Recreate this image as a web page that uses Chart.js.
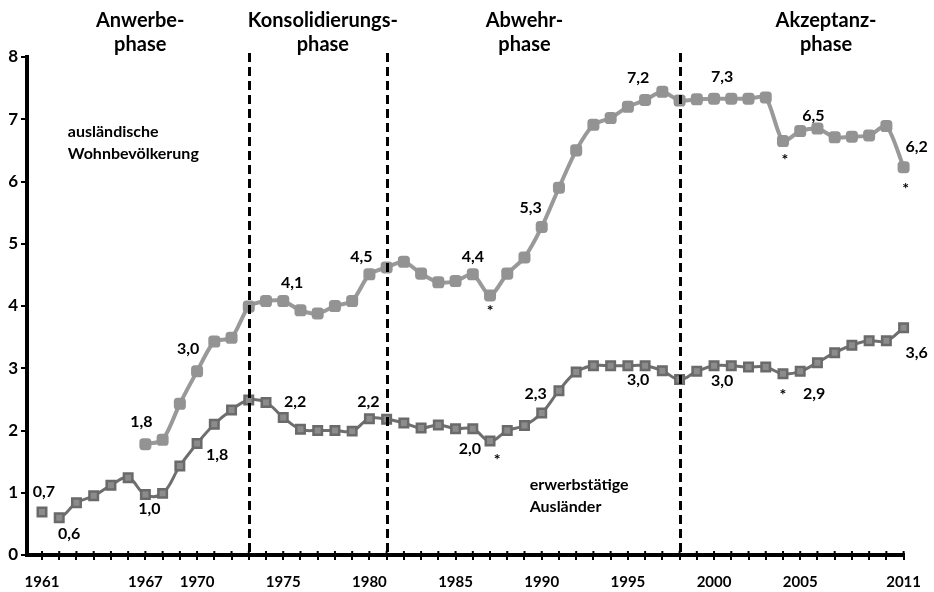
<!DOCTYPE html>
<html>
<head>
<meta charset="utf-8">
<script src="https://cdn.jsdelivr.net/npm/chart.js@4.4.1/dist/chart.umd.min.js"></script>
<style>
    html, body { margin: 0; padding: 0; background: #fff; }
    #wrap { width: 934px; height: 592px; }
</style>
</head>
<body>
<div id="wrap"><canvas id="chart"></canvas></div>
<script>
// Jahre und Werte (Mio.)
const wohnYears = [1967, 1968, 1969, 1970, 1971, 1972, 1973, 1974, 1975, 1976, 1977, 1978, 1979, 1980,
    1981, 1982, 1983, 1984, 1985, 1986, 1987, 1988, 1989, 1990, 1991, 1992, 1993, 1994, 1995, 1996,
    1997, 1998, 1999, 2000, 2001, 2002, 2003, 2004, 2005, 2006, 2007, 2008, 2009, 2010, 2011];
const wohnValues = [1.78, 1.85, 2.43, 2.95, 3.43, 3.49, 3.99, 4.08, 4.08, 3.93, 3.88, 4.00, 4.08, 4.51,
    4.62, 4.71, 4.52, 4.38, 4.40, 4.51, 4.17, 4.52, 4.78, 5.27, 5.90, 6.50, 6.91, 7.02, 7.20, 7.31,
    7.44, 7.30, 7.32, 7.33, 7.33, 7.33, 7.35, 6.65, 6.81, 6.85, 6.71, 6.72, 6.74, 6.89, 6.23];

const erwerbYears = [1961, 1962, 1963, 1964, 1965, 1966, 1967, 1968, 1969, 1970, 1971, 1972, 1973, 1974,
    1975, 1976, 1977, 1978, 1979, 1980, 1981, 1982, 1983, 1984, 1985, 1986, 1987, 1988, 1989, 1990,
    1991, 1992, 1993, 1994, 1995, 1996, 1997, 1998, 1999, 2000, 2001, 2002, 2003, 2004, 2005, 2006,
    2007, 2008, 2009, 2010, 2011];
const erwerbValues = [0.69, 0.60, 0.84, 0.95, 1.12, 1.24, 0.97, 0.99, 1.43, 1.79, 2.10, 2.33, 2.49, 2.45,
    2.21, 2.02, 2.00, 2.00, 1.99, 2.19, 2.18, 2.12, 2.04, 2.09, 2.03, 2.03, 1.83, 2.00, 2.08, 2.28,
    2.64, 2.94, 3.04, 3.04, 3.04, 3.04, 2.96, 2.82, 2.95, 3.04, 3.04, 3.02, 3.02, 2.91, 2.95, 3.09,
    3.25, 3.37, 3.44, 3.44, 3.65];

const xTickLabels = [1961, 1967, 1970, 1975, 1980, 1985, 1990, 1995, 2000, 2005, 2011];
const phaseBreaks = [1973, 1981, 1998];
const phases = [
    { x: 1966.7, lines: ['Anwerbe-', 'phase'] },
    { x: 1977.3, lines: ['Konsolidierungs-', 'phase'] },
    { x: 1989.0, lines: ['Abwehr-', 'phase'] },
    { x: 2006.5, lines: ['Akzeptanz-', 'phase'] }
];

// Beschriftungen an den Punkten: [Jahr, Wert, Text, dx, dy]
const wohnLabels = [
    [1967, 1.78, '1,8', -4, -22], [1970, 2.95, '3,0', -9, -23], [1975, 4.08, '4,1', 9, -18],
    [1980, 4.51, '4,5', -8, -17], [1986, 4.51, '4,4', 0, -17], [1990, 5.27, '5,3', -11, -19],
    [1996, 7.31, '7,2', -7, -22], [2000, 7.33, '7,3', 8, -22], [2006, 6.85, '6,5', -4, -13],
    [2011, 6.23, '6,2', 13, -20], [1987, 4.17, '*', 0, 15], [2004, 6.65, '*', 2, 19], [2011, 6.23, '*', 2, 22]
];
const erwerbLabels = [
    [1961, 0.69, '0,7', 2, -20], [1962, 0.60, '0,6', 10, 16], [1967, 0.97, '1,0', 4, 14],
    [1970, 1.79, '1,8', 20, 11], [1975, 2.21, '2,2', 12, -16], [1980, 2.19, '2,2', -1, -17],
    [1986, 2.03, '2,0', -3, 20], [1990, 2.28, '2,3', -6, -19], [1996, 3.04, '3,0', -7, 14],
    [2000, 3.04, '3,0', 8, 15], [2005, 2.95, '2,9', 14, 22], [2011, 3.65, '3,6', 13, 25],
    [1987, 1.83, '*', 7, 19], [2004, 2.91, '*', 0, 21]
];
const seriesNames = [
    { x: 1962.5, y: 6.8, lines: ['ausländische', 'Wohnbevölkerung'] },
    { x: 1989.3, y: 1.12, lines: ['erwerbstätige', 'Ausländer'] }
];

const FONT = 'Lato, "Open Sans", sans-serif';

const overlay = {
    id: 'overlay',
    afterDatasetsDraw(chart) {
        const { ctx, scales: { x, y }, chartArea } = chart;
        ctx.save();

        // gestrichelte Phasengrenzen
        ctx.strokeStyle = '#000';
        ctx.lineWidth = 3;
        ctx.setLineDash([9, 5]);
        phaseBreaks.forEach(year => {
            const px = Math.round(x.getPixelForValue(year)) + 0.5;
            ctx.beginPath();
            ctx.moveTo(px, chartArea.top - 4);
            ctx.lineTo(px, chartArea.bottom);
            ctx.stroke();
        });
        ctx.setLineDash([]);

        // kleine Jahresstriche oberhalb der x-Achse
        ctx.lineWidth = 2;
        for (let yr = 1961; yr <= 2011; yr++) {
            const px = x.getPixelForValue(yr);
            ctx.beginPath();
            ctx.moveTo(px, chartArea.bottom - 4);
            ctx.lineTo(px, chartArea.bottom);
            ctx.stroke();
        }

        ctx.fillStyle = '#000';
        ctx.textAlign = 'center';
        ctx.textBaseline = 'middle';

        ctx.font = 'bold 20px ' + FONT;
        phases.forEach(p => {
            const px = x.getPixelForValue(p.x);
            p.lines.forEach((line, i) => ctx.fillText(line, px, 21 + i * 24));
        });

        ctx.font = 'bold 16px ' + FONT;
        wohnLabels.concat(erwerbLabels).forEach(([year, val, text, dx, dy]) => {
            ctx.fillText(text, x.getPixelForValue(year) + dx, y.getPixelForValue(val) + dy);
        });

        ctx.textAlign = 'left';
        ctx.font = 'bold 16px ' + FONT;
        seriesNames.forEach(s => {
            const px = x.getPixelForValue(s.x);
            const py = y.getPixelForValue(s.y);
            s.lines.forEach((line, i) => ctx.fillText(line, px, py + i * 22));
        });

        ctx.restore();
    }
};

new Chart(document.getElementById('chart'), {
    type: 'line',
    data: {
        datasets: [{
            label: 'ausländische Wohnbevölkerung',
            data: wohnYears.map((yr, i) => ({ x: yr, y: wohnValues[i] })),
            borderColor: '#999999',
            backgroundColor: '#999999',
            borderWidth: 4,
            tension: 0.25,
            clip: false,
            pointStyle: 'rectRounded',
            pointRadius: 7,
            pointBorderWidth: 0,
            pointBackgroundColor: '#939393'
        }, {
            label: 'erwerbstätige Ausländer',
            data: erwerbYears.map((yr, i) => ({ x: yr, y: erwerbValues[i] })),
            borderColor: '#6e6e6e',
            backgroundColor: '#6e6e6e',
            borderWidth: 3,
            tension: 0.4,
            clip: false,
            pointStyle: 'rect',
            pointRadius: 6,
            pointBorderWidth: 2.5,
            pointBorderColor: '#6a6a6a',
            pointBackgroundColor: '#8c8c8c',
            segment: {
                // 1961 steht für sich, ohne Verbindung
                borderColor: c => c.p0DataIndex === 0 ? 'rgba(0,0,0,0)' : '#6e6e6e'
            }
        }]
    },
    options: {
        responsive: true,
        maintainAspectRatio: false,
        animation: false,
        layout: { padding: { top: 57, right: 30, left: 0, bottom: 0 } },
        plugins: { legend: { display: false }, tooltip: { enabled: false } },
        scales: {
            x: {
                type: 'linear',
                min: 1960.13,
                max: 2011,
                afterBuildTicks: axis => {
                    const t = [];
                    for (let yr = 1961; yr <= 2011; yr++) t.push({ value: yr });
                    axis.ticks = t;
                },
                afterFit: axis => { axis.height = 37; },
                border: { display: true, color: '#000', width: 4 },
                grid: { drawOnChartArea: false, drawTicks: true, tickLength: 5, color: '#000', lineWidth: 2 },
                ticks: {
                    autoSkip: false,
                    maxRotation: 0,
                    padding: 13,
                    color: '#000',
                    font: { family: FONT, size: 15, weight: 'bold' },
                    callback: v => xTickLabels.includes(v) ? String(v) : ''
                }
            },
            y: {
                min: 0,
                max: 8,
                afterFit: axis => { axis.width = 27; },
                border: { display: true, color: '#000', width: 4 },
                grid: { drawOnChartArea: false, drawTicks: true, tickLength: 6, color: '#000', lineWidth: 2 },
                ticks: {
                    stepSize: 1,
                    padding: 3,
                    color: '#000',
                    font: { family: FONT, size: 17, weight: 'bold' }
                }
            }
        }
    },
    plugins: [overlay]
});
</script>
</body>
</html>
